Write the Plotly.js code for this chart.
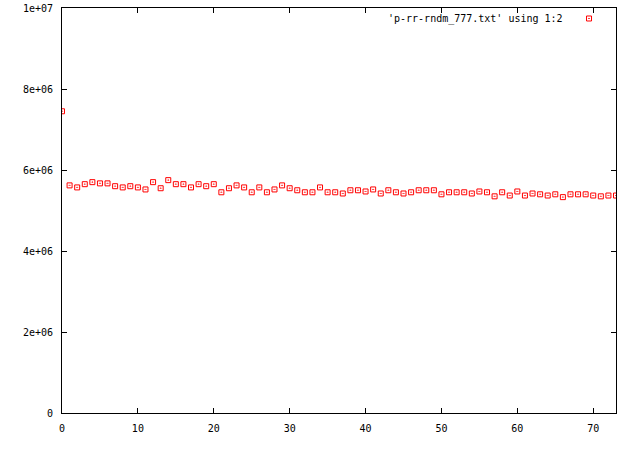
<!DOCTYPE html>
<html><head><meta charset="utf-8">
<script src="https://cdn.plot.ly/plotly-3.0.1.min.js"></script>
<style>body{margin:0;background:#fff}#plot{width:640px;height:450px}</style>
</head><body><div id="plot"></div>
<script>
const seriesName = "'p-rr-rndm_777.txt' using 1:2";
const xValues = [0,1,2,3,4,5,6,7,8,9,10,11,12,13,14,15,16,17,18,19,20,21,22,23,24,25,26,27,28,29,30,31,32,33,34,35,36,37,38,39,40,41,42,43,44,45,46,47,48,49,50,51,52,53,54,55,56,57,58,59,60,61,62,63,64,65,66,67,68,69,70,71,72,73];
const yValues = [7.45e6,5.62e6,5.57e6,5.65e6,5.70e6,5.67e6,5.67e6,5.60e6,5.57e6,5.60e6,5.57e6,5.52e6,5.70e6,5.55e6,5.75e6,5.65e6,5.65e6,5.57e6,5.65e6,5.60e6,5.65e6,5.45e6,5.55e6,5.62e6,5.57e6,5.45e6,5.57e6,5.45e6,5.52e6,5.62e6,5.55e6,5.50e6,5.45e6,5.45e6,5.57e6,5.45e6,5.45e6,5.42e6,5.50e6,5.50e6,5.47e6,5.52e6,5.42e6,5.50e6,5.45e6,5.42e6,5.45e6,5.50e6,5.50e6,5.50e6,5.40e6,5.45e6,5.45e6,5.45e6,5.42e6,5.47e6,5.45e6,5.35e6,5.45e6,5.37e6,5.47e6,5.37e6,5.42e6,5.40e6,5.37e6,5.40e6,5.33e6,5.40e6,5.40e6,5.40e6,5.37e6,5.35e6,5.37e6,5.37e6];
const xTickVals = [0,10,20,30,40,50,60,70];
const yTickVals = [0,2e6,4e6,6e6,8e6,1e7];
const yTickText = ['0','2e+06','4e+06','6e+06','8e+06','1e+07'];

const font = {family:'DejaVu Sans Mono, monospace', size:10, color:'#000'};
const trace = {
  x: xValues, y: yValues, type:'scatter', mode:'markers', name: seriesName,
  marker:{symbol:'square-open-dot', size:5, color:'#ff0000', line:{width:1, color:'#ff0000'}},
  showlegend:true
};
const axisCommon = {showgrid:false, zeroline:false, showline:true, linecolor:'#000', linewidth:1,
  mirror:'allticks', ticks:'inside', ticklen:5, tickcolor:'#000', tickfont:font};
const layout = {
  width:640, height:450, margin:{l:62, r:24, t:8, b:37, autoexpand:false},
  paper_bgcolor:'#fff', plot_bgcolor:'#fff', font:font,
  xaxis:Object.assign({}, axisCommon, {range:[0,73], tickvals:xTickVals, ticklabelstandoff:6}),
  yaxis:Object.assign({}, axisCommon, {range:[0,1e7], tickvals:yTickVals, ticktext:yTickText, ticklabelstandoff:6}),
  showlegend:true,
  legend:{x:0.9152, y:1.0099, xanchor:'left', yanchor:'top', bgcolor:'rgba(0,0,0,0)', font:{size:1, color:'rgba(0,0,0,0)'}, itemwidth:30},
  annotations:[{xref:'paper', yref:'paper', x:0.908, y:0.973, xanchor:'right', yanchor:'middle', text:seriesName, showarrow:false, font:font}]
};
Plotly.newPlot('plot', [trace], layout, {displayModeBar:false, staticPlot:true});
</script></body></html>
